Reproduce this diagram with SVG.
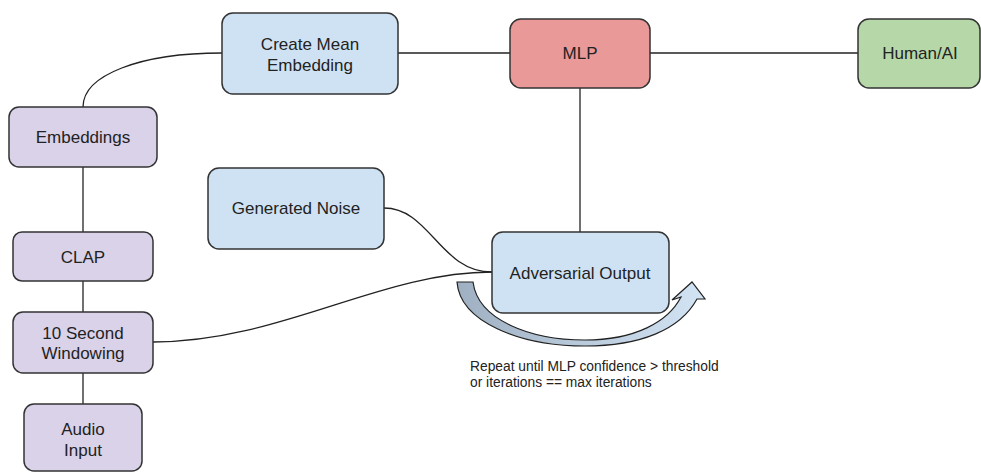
<svg xmlns="http://www.w3.org/2000/svg" width="981" height="473" viewBox="0 0 981 473">
<style>
.n{stroke:#333;stroke-width:1.5}
.p{fill:#d9d2e9}.b{fill:#cfe2f3}.r{fill:#ea9999}.g{fill:#b6d7a8}
.t{font-family:"Liberation Sans",Arial,sans-serif;font-size:17px;fill:#222;text-anchor:middle}
.s{font-family:"Liberation Sans",Arial,sans-serif;font-size:13.8px;fill:#222}
.c{fill:none;stroke:#222;stroke-width:1.3}
</style>
<defs>
<linearGradient id="loop" x1="457" y1="0" x2="705" y2="0" gradientUnits="userSpaceOnUse">
<stop offset="0" stop-color="#9fb0c2"/>
<stop offset="1" stop-color="#d3e4f5"/>
</linearGradient>
</defs>
<rect width="981" height="473" fill="#fff"/>
<g id="connectors">
<path class="c" d="M83,107 C83,75 140,53 222,53"/>
<path class="c" d="M398,53 L510,53"/>
<path class="c" d="M650,53 L858,53"/>
<path class="c" d="M580,88 L580,232"/>
<path class="c" d="M83,167 L83,232"/>
<path class="c" d="M83,281 L83,312"/>
<path class="c" d="M83,373 L83,404"/>
<path class="c" d="M384,208 C430,208 440,272 492,272"/>
<path class="c" d="M153,342 C280,342 380,272 492,272"/>
</g>
<g id="create-mean">
<rect class="n b" x="222" y="13" width="176" height="81" rx="11"/>
<text class="t" x="310" y="50">Create Mean</text>
<text class="t" x="310" y="71">Embedding</text>
</g>
<g id="mlp">
<rect class="n r" x="510" y="19" width="140" height="69" rx="11"/>
<text class="t" x="580" y="59">MLP</text>
</g>
<g id="human-ai">
<rect class="n g" x="858" y="19" width="122" height="69" rx="11"/>
<text class="t" x="920" y="59">Human/AI</text>
</g>
<g id="embeddings">
<rect class="n p" x="9" y="107" width="148" height="60" rx="10"/>
<text class="t" x="83" y="143">Embeddings</text>
</g>
<g id="generated-noise">
<rect class="n b" x="208" y="168" width="176" height="81" rx="11"/>
<text class="t" x="296" y="214">Generated Noise</text>
</g>
<g id="clap">
<rect class="n p" x="13" y="232" width="140" height="49" rx="9"/>
<text class="t" x="83" y="263">CLAP</text>
</g>
<g id="windowing">
<rect class="n p" x="13" y="312" width="140" height="61" rx="10"/>
<text class="t" x="83" y="339">10 Second</text>
<text class="t" x="83" y="359">Windowing</text>
</g>
<g id="audio-input">
<rect class="n p" x="24" y="404" width="118" height="67" rx="10"/>
<text class="t" x="83" y="435">Audio</text>
<text class="t" x="83" y="456">Input</text>
</g>
<g id="adversarial-output">
<rect class="n b" x="492" y="232" width="177" height="81" rx="11"/>
<text class="t" x="580" y="279">Adversarial Output</text>
</g>
<g id="repeat-loop">
<path d="M457,282 L473,282 C478,320 530,340 585,340 C635,340 668,322 681,297 L672,300 L692,282 L705,299 L697,299 C680,330 640,346 585,346 C520,346 460,322 457,282 Z" fill="url(#loop)" stroke="#222" stroke-width="1.2" stroke-linejoin="miter"/>
<text class="s" x="470" y="371">Repeat until MLP confidence &gt; threshold</text>
<text class="s" x="470" y="387">or iterations == max iterations</text>
</g>
</svg>
